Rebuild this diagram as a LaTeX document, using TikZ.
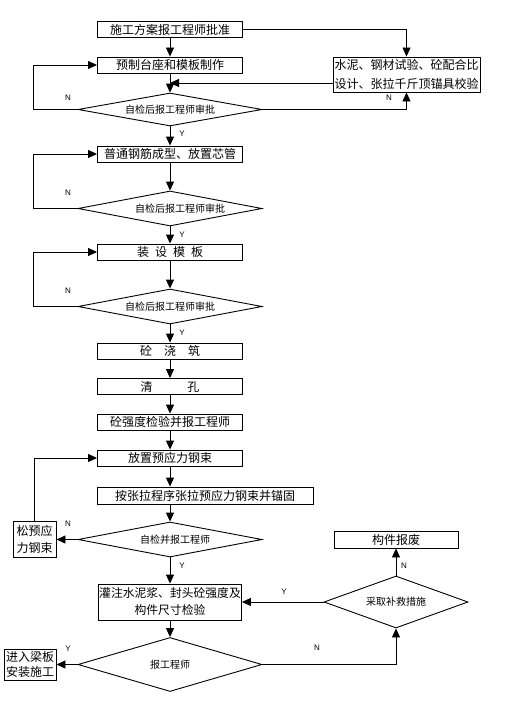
\documentclass[tikz,border=0pt]{standalone}
\usepackage{fontspec}
\setmainfont{Noto Sans CJK SC}
\newfontfamily\lblfont{Liberation Sans}
\usepackage{tikz}
\usetikzlibrary{shapes,arrows.meta}

\begin{document}
\begin{tikzpicture}[x=1pt, y=-1pt, line width=0.9pt,
	textbox/.style={font=\fontsize{12}{17}\selectfont, draw, minimum width=145, minimum height=16, inner sep=0, align=center},
	check/.style={diamond, draw, font=\fontsize{10}{12}\selectfont, inner sep=0, aspect=5.5, minimum width=184, minimum height=35},
	lbl/.style={font=\lblfont\fontsize{8}{9}\selectfont, inner sep=0},
	arr/.style={-{Triangle[length=9pt,width=8pt]}}
]
\useasboundingbox (0,0) rectangle (505,701);

\node[textbox] (plan) at (170,29.5) {施工方案报工程师批准};
\node[textbox] (bed) at (170,65) {预制台座和模板制作};
\node[textbox, minimum width=147, minimum height=35, font=\fontsize{12}{19}\selectfont] (test) at (406.5,74.5) {水泥、钢材试验、砼配合比\\设计、张拉千斤顶锚具校验};
\node[check, minimum height=33] (chk1) at (170,109.5) {自检后报工程师审批};
\node[textbox] (rebar) at (170,154) {普通钢筋成型、放置芯管};
\node[check] (chk2) at (170,208.5) {\hspace{20pt}自检后报工程师审批};
\node[textbox] (form) at (170,252) {装\hspace{6pt}设\hspace{6pt}模\hspace{6pt}板};
\node[check] (chk3) at (170,306.5) {自检后报工程师审批};
\node[textbox] (pour) at (170,351) {砼\hspace{12pt}浇\hspace{12pt}筑};
\node[textbox] (clean) at (170,386.5) {清\hspace{35pt}孔};
\node[textbox] (strength) at (170,422) {砼强度检验并报工程师};
\node[textbox] (place) at (170,458) {放置预应力钢束};
\node[textbox, minimum width=216, minimum height=17] (tension) at (205,495.5) {按张拉程序张拉预应力钢束并锚固};
\node[check] (chk4) at (170,539.5) {\hspace{10pt}自检并报工程师};
\node[textbox, minimum width=43, minimum height=36] (release) at (34.5,539.5) {松预应\\力钢束};
\node[textbox, minimum width=143, minimum height=36, font=\fontsize{11.8}{17}\selectfont] (grout) at (170,602) {灌注水泥浆、封头砼强度及\\构件尺寸检验};
\node[check, aspect=3.4, minimum height=54] (report) at (170,664.5) {报工程师};
\node[check, aspect=2.8, minimum width=144, minimum height=52] (remedy) at (396,602) {采取补救措施};
\node[textbox, minimum width=124, minimum height=17] (scrap) at (396,539.5) {构件报废};
\node[textbox, minimum width=52, minimum height=31, font=\fontsize{12}{15}\selectfont] (install) at (30,664.5) {进入梁板\\安装施工};

\coordinate (join) at (170,83);

\draw[arr] (plan) -- (bed);
\draw[arr] (plan.east) -| (test.north);
\draw[arr] (bed) -- (chk1);
\draw[arr] (test.west |- join) -- (join);
\draw[arr] (chk1.west) -- ++(-44,0) |- (bed.west);
\draw[arr] (chk1.east) -| (test.south);
\draw[arr] (chk1) -- (rebar);
\draw[arr] (rebar) -- (chk2);
\draw[arr] (chk2.west) -- ++(-44,0) |- (rebar.west);
\draw[arr] (chk2) -- (form);
\draw[arr] (form) -- (chk3);
\draw[arr] (chk3.west) -- ++(-44,0) |- (form.west);
\draw[arr] (chk3) -- (pour);
\draw[arr] (pour) -- (clean);
\draw[arr] (clean) -- (strength);
\draw[arr] (strength) -- (place);
\draw[arr] (place) -- (place |- tension.north);
\draw[arr] (tension.south -| chk4) -- (chk4);
\draw[arr] (chk4.west) -- (release.east);
\draw[arr] (release.north) |- (place.west);
\draw[arr] (chk4) -- (grout);
\draw[arr] (grout) -- (report);
\draw[arr] (report.west) -- (install.east);
\draw[arr] (report.east) -| (remedy.south);
\draw[arr] (remedy.west) -- (grout.east);
\draw[arr] (remedy) -- (scrap);

\node[lbl] (n1) at (68,98) {N};
\node[lbl] (y1) at (182,134) {Y};
\node[lbl] (n1r) at (389,98) {N};
\node[lbl] (n2) at (68,193) {N};
\node[lbl] (y2) at (182,235) {Y};
\node[lbl] (n3) at (68,291) {N};
\node[lbl] (y3) at (182,333) {Y};
\node[lbl] (n4) at (68,524) {N};
\node[lbl] (y4) at (182,566) {Y};
\node[lbl] (y5) at (284,592) {Y};
\node[lbl] (n5) at (404,566) {N};
\node[lbl] (n6) at (317,648) {N};
\node[lbl] (y6) at (68,649) {Y};
\end{tikzpicture}
\end{document}
